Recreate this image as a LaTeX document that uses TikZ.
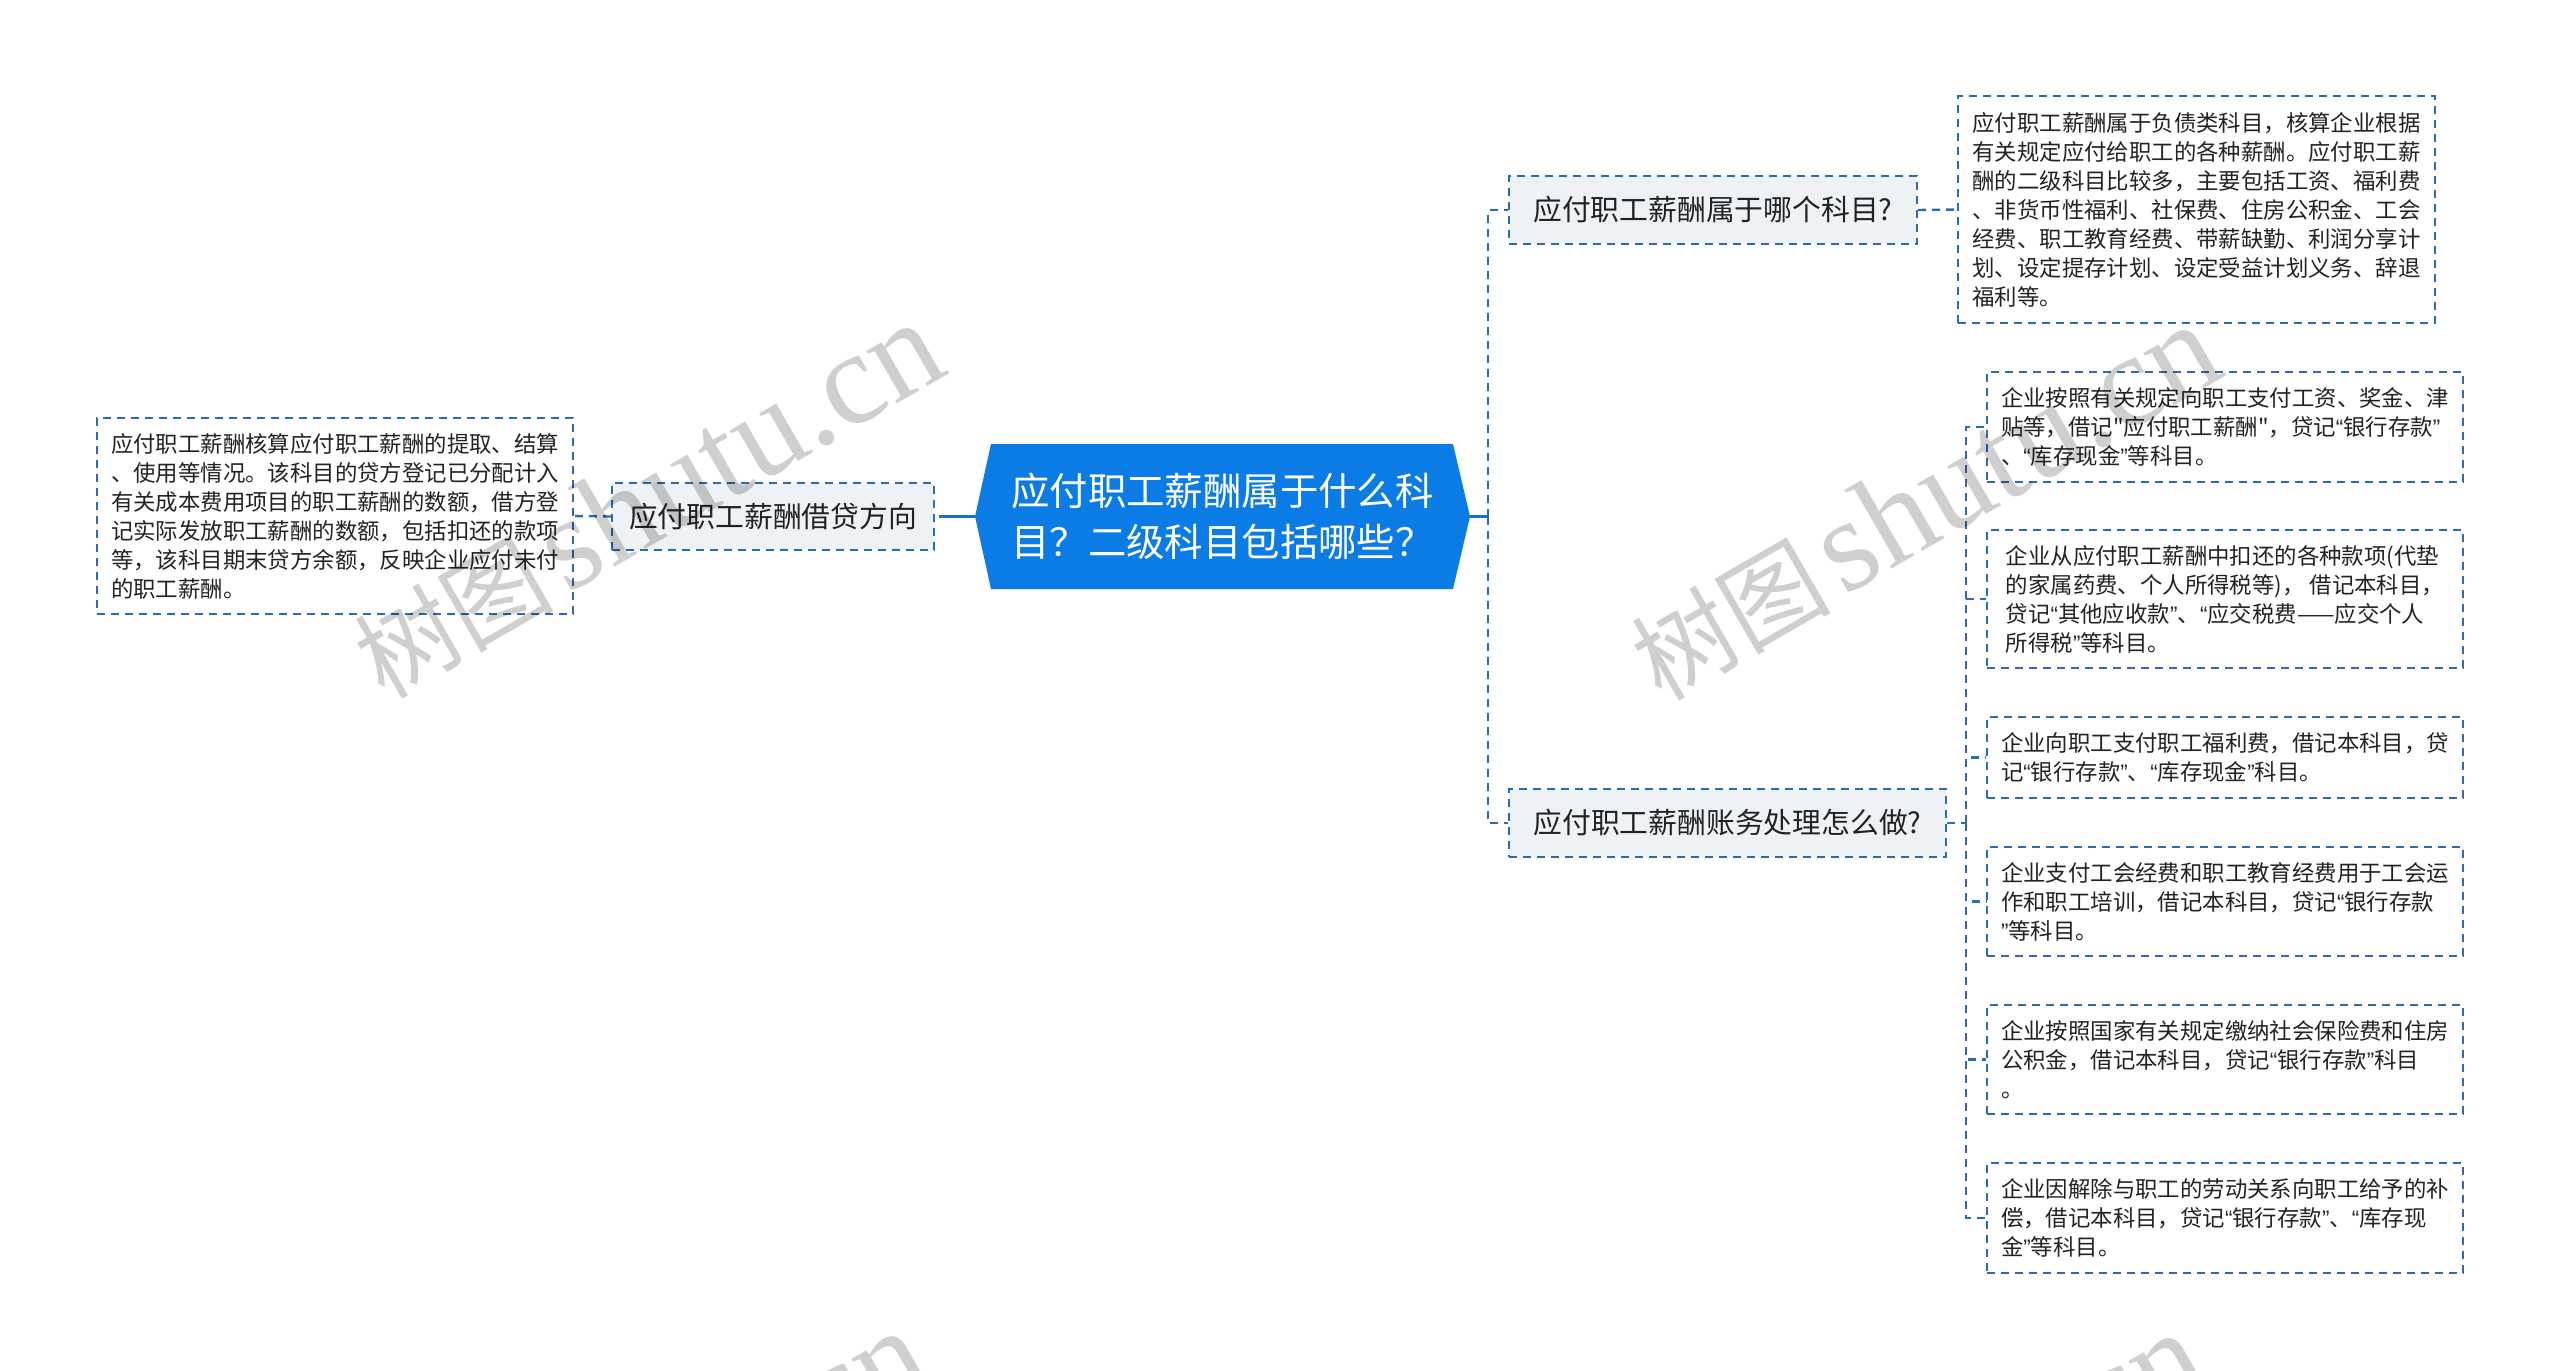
\documentclass[tikz,border=0pt]{standalone}
\usepackage{fontspec}
\newfontfamily\cjk{Noto Sans CJK SC}[Ligatures=TeXOff]
\newfontfamily\wmlat{Liberation Serif}
\newfontfamily\qfont{Liberation Sans}
\newcommand\oq{{\qfont “}}
\newcommand\cq{{\qfont ”}}
\definecolor{hubblue}{HTML}{0B7BE6}
\definecolor{solidblue}{HTML}{1570D0}
\definecolor{lnk}{HTML}{2B6CB0}
\definecolor{lvl}{HTML}{EEF1F6}
\definecolor{txt}{HTML}{222222}
\begin{document}
\begin{tikzpicture}[x=1pt,y=-1pt,
  dsh/.style={draw=lnk, line width=2.4pt, dash pattern=on 8pt off 6pt},
  solidlink/.style={draw=solidblue, line width=3pt},
  lvone/.style={dsh, fill=lvl, text=txt, font=\cjk\fontsize{28.8}{36}\selectfont, inner sep=0pt, minimum height=67pt},
  leaf/.style={dsh, fill=white, text=txt, font=\cjk\fontsize{22.4}{29}\selectfont, align=left, inner sep=0pt, minimum width=476pt},
  hubtext/.style={text=white, font=\cjk\fontsize{38.4}{50.6}\selectfont, align=center, inner sep=0pt, minimum width=495pt, minimum height=145pt},
  wm/.style={rotate=30, text=black, opacity=0.19, inner sep=0pt}
]
\useasboundingbox (0,0) rectangle (2560,1371);
\clip (0,0) rectangle (2560,1371);
\fill[white] (0,0) rectangle (2560,1371);

% central hexagon
\fill[hubblue] (975,516.5) -- (991,444) -- (1453,444) -- (1470,516.5) -- (1453,589) -- (991,589) -- cycle;
\node[hubtext] (hub) at (1222.5,516.5) {应付职工薪酬属于什么科\\目？二级科目包括哪些？};

% level one
\node[lvone, minimum width=322pt] (lnode) at (773,516.5) {应付职工薪酬借贷方向};
\node[lvone, minimum width=408pt, minimum height=68pt] (qnode) at (1713,210) {应付职工薪酬属于哪个科目?};
\node[lvone, minimum width=437pt, minimum height=68pt] (anode) at (1727.5,823) {应付职工薪酬账务处理怎么做?};

% leaves
\node[leaf, minimum height=196pt] (leafL) at (335,516) {应付职工薪酬核算应付职工薪酬的提取、结算\\、使用等情况。该科目的贷方登记已分配计入\\有关成本费用项目的职工薪酬的数额，借方登\\记实际发放职工薪酬的数额，包括扣还的款项\\等，该科目期末贷方余额，反映企业应付未付\\的职工薪酬。};
\node[leaf, minimum width=477pt, minimum height=227pt] (leafT) at (2196.5,209.5) {应付职工薪酬属于负债类科目，核算企业根据\\有关规定应付给职工的各种薪酬。应付职工薪\\酬的二级科目比较多，主要包括工资、福利费\\、非货币性福利、社保费、住房公积金、工会\\经费、职工教育经费、带薪缺勤、利润分享计\\划、设定提存计划、设定受益计划义务、辞退\\福利等。};
\node[leaf, minimum height=110pt] (r1) at (2225,427) {企业按照有关规定向职工支付工资、奖金、津\\贴等，借记"应付职工薪酬"，贷记\oq 银行存款\cq\\、\oq 库存现金\cq 等科目。};
\node[leaf, minimum height=138pt] (r2) at (2225,599) {企业从应付职工薪酬中扣还的各种款项(代垫\\的家属药费、个人所得税等)， 借记本科目，\\贷记\oq 其他应收款\cq 、\oq 应交税费——应交个人\\所得税\cq 等科目。};
\node[leaf, minimum height=81pt] (r3) at (2225,757.5) {企业向职工支付职工福利费，借记本科目，贷\\记\oq 银行存款\cq 、\oq 库存现金\cq 科目。};
\node[leaf, minimum height=109pt] (r4) at (2225,901.5) {企业支付工会经费和职工教育经费用于工会运\\作和职工培训，借记本科目，贷记\oq 银行存款\\\cq 等科目。};
\node[leaf, minimum height=109pt] (r5) at (2225,1059.5) {企业按照国家有关规定缴纳社会保险费和住房\\公积金，借记本科目，贷记\oq 银行存款\cq 科目\\。};
\node[leaf, minimum height=110pt] (r6) at (2225,1218) {企业因解除与职工的劳动关系向职工给予的补\\偿，借记本科目，贷记\oq 银行存款\cq 、\oq 库存现\\金\cq 等科目。};

% connectors left
\coordinate (jL) at (947,516.5);
\draw[solidlink] (hub.west) -- (jL);
\draw[dsh] (jL) -- (lnode.east);
\draw[dsh] (lnode.west) -- (leafL.east);

% connectors right
\coordinate (tR) at (1488,516.5);
\draw[solidlink] (hub.east) -- (tR);
\draw[dsh] (tR) |- (qnode.west);
\draw[dsh] (tR) |- (anode.west);
\draw[dsh] (qnode.east) -- (leafT.west);

\coordinate (tA) at (1966,823);
\draw[dsh] (anode.east) -- (tA);
\foreach \r in {r1,r2,r3,r4,r5,r6} {\draw[dsh] (tA) |- (\r.west);}

% watermarks
\node[wm] (wm1) at (647,500) {{\cjk\fontsize{100}{100}\selectfont 树图}\hspace{12pt}{\wmlat\fontsize{132}{132}\selectfont shutu.cn}};
\node[wm] (wm2) at (1924,502) {{\cjk\fontsize{100}{100}\selectfont 树图}\hspace{12pt}{\wmlat\fontsize{132}{132}\selectfont shutu.cn}};
\node[wm] (wm3) at (632,1508) {{\cjk\fontsize{100}{100}\selectfont 树图}\hspace{12pt}{\wmlat\fontsize{132}{132}\selectfont shutu.cn}};
\node[wm] (wm4) at (1909,1510) {{\cjk\fontsize{100}{100}\selectfont 树图}\hspace{12pt}{\wmlat\fontsize{132}{132}\selectfont shutu.cn}};
\end{tikzpicture}
\end{document}
